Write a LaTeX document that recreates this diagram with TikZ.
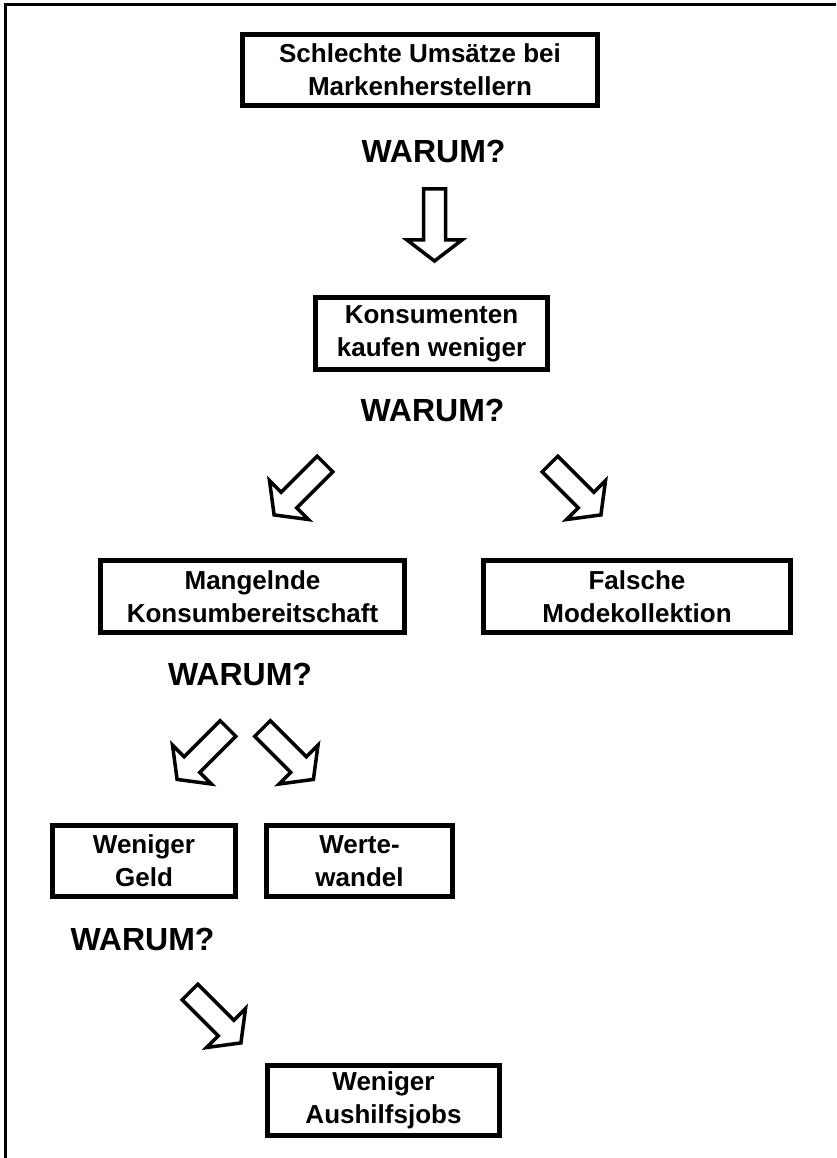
\documentclass[tikz,border=0pt]{standalone}
\usepackage{fontspec}
\setmainfont{Liberation Sans}
\usetikzlibrary{calc}

% Blockpfeil : #1 Anfang des Schafts, #2 Richtung
\newcommand{\blockpfeil}[2]{%
  \draw[pfeil,shift={(#1)},rotate=#2]
    (0,-11) -- (51,-11) -- (51,-27.5) -- (72,0) -- (51,27.5) -- (51,11) -- (0,11) -- cycle;}

\begin{document}
\begin{tikzpicture}[
  x=1pt, y=-1pt,
  kasten/.style={draw,line width=5pt,inner sep=0pt,align=center,
    font=\fontsize{26}{33}\selectfont\bfseries},
  frage/.style={anchor=base,inner sep=0pt,font=\fontsize{32}{36}\selectfont\bfseries},
  pfeil/.style={line width=3.5pt,line join=miter},
  rahmen/.style={line width=3pt},
]
  \useasboundingbox (0,0) rectangle (836,1158);

  % Rahmen (nur oben und links sichtbar)
  \draw[rahmen] (836,5) -- (5,5) -- (5,1158);

  % Kaesten
  \node[kasten,minimum width=355pt,minimum height=71pt] (umsatz) at (420,70)
    {Schlechte Umsätze bei\\Markenherstellern};
  \node[kasten,minimum width=232pt,minimum height=72pt] (kauf) at (431.5,333.5)
    {Konsumenten\\kaufen weniger};
  \node[kasten,minimum width=304pt,minimum height=72pt] (bereit) at (252.5,596.5)
    {Mangelnde\\Konsumbereitschaft};
  \node[kasten,minimum width=307pt,minimum height=72pt] (mode) at (637,596.5)
    {Falsche\\Modekollektion};
  \node[kasten,minimum width=183pt,minimum height=71pt] (geld) at (144,861)
    {Weniger\\Geld};
  \node[kasten,minimum width=186pt,minimum height=71pt] (werte) at (359.5,861)
    {Werte-\\wandel};
  \node[kasten,minimum width=232pt,minimum height=70pt] (jobs) at (383.5,1100.5)
    {Weniger\\Aushilfsjobs};

  % Fragen
  \node[frage] (w1) at (433.5,163) {WARUM?};
  \node[frage] (w2) at (432.5,421.5) {WARUM?};
  \node[frage] (w3) at (240,685) {WARUM?};
  \node[frage] (w4) at (142.5,950) {WARUM?};

  % Anfangspunkte der Pfeile
  \coordinate (p1) at (434.5,189);
  \coordinate (p2) at (325,464);
  \coordinate (p3) at (550,464);
  \coordinate (p4) at (228,728.5);
  \coordinate (p5) at (262.5,728.5);
  \coordinate (p6) at (190,992);

  % Pfeile
  \blockpfeil{p1}{-90}
  \blockpfeil{p2}{-135}
  \blockpfeil{p3}{-45}
  \blockpfeil{p4}{-135}
  \blockpfeil{p5}{-45}
  \blockpfeil{p6}{-45}
\end{tikzpicture}
\end{document}
